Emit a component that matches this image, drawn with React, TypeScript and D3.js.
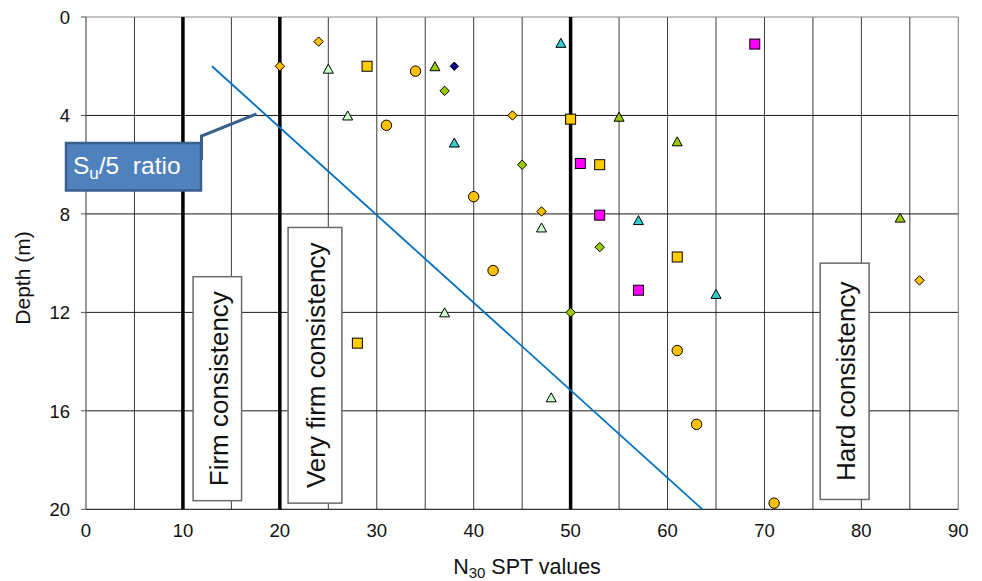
import React from 'react';
import * as d3 from 'd3';

// ---------- data ----------
const xTicks = [0, 10, 20, 30, 40, 50, 60, 70, 80, 90];
const yTicks = [0, 4, 8, 12, 16, 20];
const xGrid = [5, 10, 15, 20, 25, 30, 35, 40, 45, 50, 55, 60, 65, 70, 75, 80, 85];
const yGrid = [4, 8, 12, 16];
const boundaryLines = [10, 20, 50];

const orangeDiamonds: [number, number][] = [[24, 1.0], [20, 2.0], [44, 4.0], [47, 7.9], [86, 10.7]];
const greenDiamonds: [number, number][] = [[37, 3.0], [45, 6.0], [53, 9.35], [50, 12.0]];
const navyDiamonds: [number, number][] = [[38, 2.0]];
const yellowSquares: [number, number][] = [[29, 2.0], [50, 4.15], [53, 6.0], [61, 9.75], [28, 13.25]];
const magentaSquares: [number, number][] = [[69, 1.1], [51, 5.95], [53, 8.05], [57, 11.1]];
const yellowCircles: [number, number][] = [[34, 2.2], [31, 4.4], [40, 7.3], [42, 10.3], [61, 13.55], [63, 16.55], [71, 19.75]];
const paleTriangles: [number, number][] = [[25, 2.1], [27, 4.0], [47, 8.55], [37, 12.0], [48, 15.45]];
const tealTriangles: [number, number][] = [[49, 1.05], [38, 5.1], [57, 8.25], [65, 11.25]];
const greenTriangles: [number, number][] = [[36, 2.0], [55, 4.05], [61, 5.05], [84, 8.15]];
const suRatioLine: [number, number][] = [[13, 2.0], [63.6, 20.0]];

const zoneLabels = ['Firm consistency', 'Very firm consistency', 'Hard consistency'];
// [x0, x1, y0, y1] in data units
const zoneBoxes: [number, number, number, number][] = [
  [11.05, 16.05, 10.55, 19.65],
  [20.85, 26.4, 8.55, 19.75],
  [75.75, 80.8, 10.0, 19.6],
];

const W = 982;
const H = 581;
const FONT = "'Liberation Sans', Arial, Helvetica, sans-serif";

const x = d3.scaleLinear().domain([0, 90]).range([86, 958.3]);
const y = d3.scaleLinear().domain([0, 20]).range([17, 509.3]);

function Square({ cx, cy, fill }: { cx: number; cy: number; fill: string }) {
  const s = 10;
  return <rect x={cx - s / 2} y={cy - s / 2} width={s} height={s} fill={fill} stroke="#000" strokeWidth={1} />;
}
function Diamond({ cx, cy, fill, r = 4.7 }: { cx: number; cy: number; fill: string; r?: number }) {
  return (
    <path
      d={`M${cx},${cy - r}L${cx + r},${cy}L${cx},${cy + r}L${cx - r},${cy}Z`}
      fill={fill}
      stroke="#000"
      strokeWidth={1}
    />
  );
}
function Tri({ cx, cy, fill }: { cx: number; cy: number; fill: string }) {
  const w = 10, h = 9;
  return (
    <path
      d={`M${cx},${cy - h / 2}L${cx + w / 2},${cy + h / 2}L${cx - w / 2},${cy + h / 2}Z`}
      fill={fill}
      stroke="#000"
      strokeWidth={1}
    />
  );
}

export default function App() {
  const line = d3.line<[number, number]>().x((d) => x(d[0])).y((d) => y(d[1]));
  return (
    <svg
      width={W}
      height={H}
      viewBox={`0 0 ${W} ${H}`}
      style={{ position: 'absolute', left: 0, top: 0, background: '#fff' }}
      fontFamily={FONT}
    >
      <rect x={0} y={0} width={W} height={H} fill="#fff" />
      {/* grid */}
      {xGrid.map((v) => (
        <line key={'gx' + v} x1={x(v)} x2={x(v)} y1={y(0)} y2={y(20)} stroke="#3a3a3a" strokeWidth={1} />
      ))}
      {yGrid.map((v) => (
        <line key={'gy' + v} x1={x(0)} x2={x(90)} y1={y(v)} y2={y(v)} stroke="#1a1a1a" strokeWidth={1} />
      ))}
      {/* frame */}
      <line x1={x(0)} x2={x(90)} y1={y(0)} y2={y(0)} stroke="#888" strokeWidth={1.2} />
      <line x1={x(90)} x2={x(90)} y1={y(0)} y2={y(20)} stroke="#888" strokeWidth={1.2} />
      <line x1={x(0)} x2={x(90)} y1={y(20)} y2={y(20)} stroke="#333" strokeWidth={1.2} />
      <line x1={x(0)} x2={x(0)} y1={y(0)} y2={y(20)} stroke="#555" strokeWidth={1.2} />
      {/* boundary lines */}
      {boundaryLines.map((v) => (
        <line key={'b' + v} x1={x(v)} x2={x(v)} y1={y(0)} y2={y(20)} stroke="#000" strokeWidth={3.5} />
      ))}
      {/* y ticks */}
      {yTicks.map((v) => (
        <g key={'yt' + v}>
          <line x1={x(0) - 5} x2={x(0)} y1={y(v)} y2={y(v)} stroke="#555" strokeWidth={1} />
          <text x={70} y={y(v)} dy="0.36em" textAnchor="end" fontSize={18.5} fill="#111">
            {v}
          </text>
        </g>
      ))}
      {/* x ticks */}
      {xTicks.map((v) => (
        <text key={'xt' + v} x={x(v)} y={537} textAnchor="middle" fontSize={18.5} fill="#111">
          {v}
        </text>
      ))}
      {/* axis titles */}
      <text x={527} y={574} textAnchor="middle" fontSize={21.5} fill="#111">
        N<tspan fontSize={15} dy={4}>30</tspan>
        <tspan dy={-4}> SPT values</tspan>
      </text>
      <text transform={`translate(30,278) rotate(-90)`} textAnchor="middle" fontSize={21} fill="#111">
        Depth (m)
      </text>

      {/* zone label boxes */}
      {zoneBoxes.map((b, i) => {
        const x0 = x(b[0]), x1 = x(b[1]), y0 = y(b[2]), y1 = y(b[3]);
        const cx = (x0 + x1) / 2, cy = (y0 + y1) / 2;
        return (
          <g key={'z' + i}>
            <rect x={x0} y={y0} width={x1 - x0} height={y1 - y0} fill="#fff" stroke="#6a6a6a" strokeWidth={1.5} />
            <text
              transform={`translate(${cx + 1},${cy}) rotate(-90)`}
              textAnchor="middle"
              dy="0.36em"
              fontSize={26}
              fill="#111"
            >
              {zoneLabels[i]}
            </text>
          </g>
        );
      })}

      {/* Su/5 line */}
      <path d={line(suRatioLine) || ''} fill="none" stroke="#0070C0" strokeWidth={1.8} />

      {/* markers */}
      {yellowCircles.map((d, i) => (
        <circle key={'yc' + i} cx={x(d[0])} cy={y(d[1])} r={5.2} fill="#FFC000" stroke="#000" strokeWidth={1} />
      ))}
      {yellowSquares.map((d, i) => (
        <Square key={'ys' + i} cx={x(d[0])} cy={y(d[1])} fill="#FFCC00" />
      ))}
      {magentaSquares.map((d, i) => (
        <Square key={'ms' + i} cx={x(d[0])} cy={y(d[1])} fill="#FF00FF" />
      ))}
      {orangeDiamonds.map((d, i) => (
        <Diamond key={'od' + i} cx={x(d[0])} cy={y(d[1])} fill="#FFC000" />
      ))}
      {greenDiamonds.map((d, i) => (
        <Diamond key={'gd' + i} cx={x(d[0])} cy={y(d[1])} fill="#99CC00" />
      ))}
      {navyDiamonds.map((d, i) => (
        <Diamond key={'nd' + i} cx={x(d[0])} cy={y(d[1])} fill="#000080" r={4.2} />
      ))}
      {paleTriangles.map((d, i) => (
        <Tri key={'pt' + i} cx={x(d[0])} cy={y(d[1])} fill="#CCFFCC" />
      ))}
      {tealTriangles.map((d, i) => (
        <Tri key={'tt' + i} cx={x(d[0])} cy={y(d[1])} fill="#33CCCC" />
      ))}
      {greenTriangles.map((d, i) => (
        <Tri key={'gt' + i} cx={x(d[0])} cy={y(d[1])} fill="#99CC00" />
      ))}

      {/* callout */}
      <polyline
        points={`201.5,160 201.5,136 256.5,114`}
        fill="none"
        stroke="#3A5F8F"
        strokeWidth={3}
      />
      <rect x={66} y={143} width={135} height={47.5} fill="#4F81BD" stroke="#3A5F8F" strokeWidth={2.5} />
      <text x={73} y={173.5} fontSize={24.5} fill="#fff" style={{ whiteSpace: 'pre' }}>
        S<tspan fontSize={17} dy={5}>u</tspan>
        <tspan dy={-5}>{'/5\u00a0 ratio'}</tspan>
      </text>
    </svg>
  );
}
